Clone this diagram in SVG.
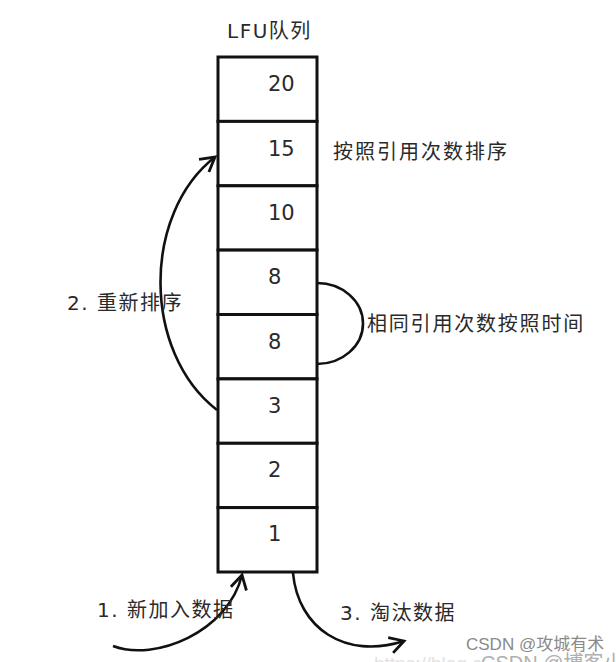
<svg xmlns="http://www.w3.org/2000/svg" width="616" height="662" viewBox="0 0 616 662">
<style>
.box{fill:#fff;stroke:#111;stroke-width:3}
.num{font-family:"DejaVu Sans",sans-serif;font-size:21px;fill:#2a2a2a}
.lbl{font-family:"DejaVu Sans","Noto Sans CJK SC",sans-serif;font-size:20px;fill:#2a2a2a;letter-spacing:1.5px}
.con{fill:none;stroke:#111;stroke-width:2.6}
.wm{font-family:"Liberation Sans","Noto Sans CJK SC",sans-serif}
</style>
<defs>
<marker id="ah" markerWidth="20" markerHeight="20" refX="0" refY="0" viewBox="-16 -10 20 20" orient="auto" markerUnits="userSpaceOnUse">
<path d="M-14,-8 L0,0 L-14,8" fill="none" stroke="#111" stroke-width="2.8" stroke-linejoin="miter"/>
</marker>
</defs>
<rect width="616" height="662" fill="#fff"/>
<text class="lbl" x="227" y="38">LFU队列</text>
<g id="node-20"><rect class="box" x="218" y="57" width="99" height="64.4"/><text class="num" x="268" y="91">20</text></g>
<g id="node-15"><rect class="box" x="218" y="121.4" width="99" height="64.4"/><text class="num" x="268" y="156">15</text></g>
<g id="node-10"><rect class="box" x="218" y="185.8" width="99" height="64.3"/><text class="num" x="268" y="220">10</text></g>
<g id="node-8a"><rect class="box" x="218" y="250.1" width="99" height="64.4"/><text class="num" x="268" y="284">8</text></g>
<g id="node-8b"><rect class="box" x="218" y="314.5" width="99" height="64.4"/><text class="num" x="268" y="349">8</text></g>
<g id="node-3"><rect class="box" x="218" y="378.9" width="99" height="64.4"/><text class="num" x="268" y="413">3</text></g>
<g id="node-2"><rect class="box" x="218" y="443.3" width="99" height="64.3"/><text class="num" x="268" y="477">2</text></g>
<g id="node-1"><rect class="box" x="218" y="507.6" width="99" height="64.4"/><text class="num" x="268" y="541">1</text></g>
<g id="connectors">
<path class="con" d="M217,410 C142,352 142,214 215,157" marker-end="url(#ah)"/>
<path class="con" d="M317,283 A46,40.5 0 0 1 317,364"/>
<path class="con" d="M113,646 C155,662 228,632 242,575" marker-end="url(#ah)"/>
<path class="con" d="M293,573 C298,628 345,660 404,641" marker-end="url(#ah)"/>
</g>
<text class="lbl" x="333" y="159" style="letter-spacing:2px">按照引用次数排序</text>
<text class="lbl" x="367" y="331" style="letter-spacing:1.8px">相同引用次数按照时间</text>
<text class="lbl" x="67" y="310">2. 重新排序</text>
<text class="lbl" x="97" y="617">1. 新加入数据</text>
<text class="lbl" x="340" y="620">3. 淘汰数据</text>
<text class="wm" x="466" y="650" font-size="17" fill="#8a8a8a">CSDN @攻城有术</text>
<text class="wm" x="374" y="670" font-size="19" fill="#e2e2e2">https://blog.c</text>
<text class="wm" x="481" y="670" font-size="20" fill="#b0b0b0">CSDN @博客小</text>
</svg>
